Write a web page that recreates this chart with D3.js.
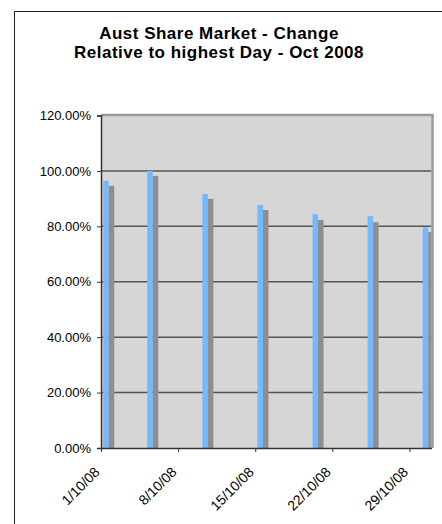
<!DOCTYPE html>
<html>
<head>
<meta charset="utf-8">
<script src="https://cdn.jsdelivr.net/npm/d3@7"></script>
<style>
  body { margin: 0; background: #fff; }
  svg { display: block; font-family: "Liberation Sans", Arial, Helvetica, sans-serif; }
</style>
</head>
<body>
<svg id="chart" width="442" height="524"></svg>
<script>
// data
var titleLines = ["Aust Share Market - Change", "Relative to highest Day - Oct 2008"];
var dates = ["2008-10-01", "2008-10-05", "2008-10-10", "2008-10-15", "2008-10-20", "2008-10-25", "2008-10-30"];
var seriesA = [96.4, 100.0, 91.7, 87.7, 84.4, 83.7, 79.6]; // blue
var seriesB = [94.6, 98.2, 89.9, 85.9, 82.3, 81.5, 78.0]; // grey
var yTicks = [0, 20, 40, 60, 80, 100, 120];
var xTickDates = ["2008-10-01", "2008-10-08", "2008-10-15", "2008-10-22", "2008-10-29"];

var parse = d3.timeParse("%Y-%m-%d");
var fmt = function (d) { return d.getDate() + "/" + (d.getMonth() + 1) + "/08"; };

var svg = d3.select("#chart");

var plotL = 101, plotR = 431.5, plotT = 115.5, plotB = 448;

// outer frame (only top and left visible)
svg.append("path")
    .attr("d", "M14.5,530 L14.5,11.5 L450,11.5")
    .attr("fill", "none")
    .attr("stroke", "#222")
    .attr("stroke-width", 1);

svg.append("g").selectAll("text")
    .data(titleLines)
    .enter()
    .append("text")
    .attr("x", 219)
    .attr("y", function (d, i) { return 39 + i * 19; })
    .attr("text-anchor", "middle")
    .attr("font-size", 17)
    .attr("letter-spacing", 0.5)
    .attr("font-weight", "bold")
    .attr("fill", "#000")
    .text(function (d) { return d; });

var x = d3.scaleTime()
    .domain([parse("2008-10-01"), parse("2008-10-31")])
    .range([plotL, plotR]);

var y = d3.scaleLinear()
    .domain([0, 120])
    .range([plotB, plotT]);

var dayW = x(parse("2008-10-02")) - x(parse("2008-10-01"));
var inner = d3.scaleBand()
    .domain(["a", "b"])
    .range([0.2 * dayW, 1.2 * dayW])
    .padding(0);

// plot background
svg.append("rect")
    .attr("x", plotL)
    .attr("y", plotT)
    .attr("width", plotR - plotL)
    .attr("height", plotB - plotT)
    .attr("fill", "#d6d6d6");

// gridlines
svg.append("g").selectAll("line")
    .data(yTicks.filter(function (d) { return d > 0 && d < 120; }))
    .enter()
    .append("line")
    .attr("x1", plotL)
    .attr("x2", plotR)
    .attr("y1", function (d) { return y(d); })
    .attr("y2", function (d) { return y(d); })
    .attr("stroke", "#555")
    .attr("stroke-width", 1.5);

svg.append("clipPath").attr("id", "plotclip")
    .append("rect")
    .attr("x", plotL).attr("y", plotT)
    .attr("width", plotR - plotL).attr("height", plotB - plotT);

var bars = svg.append("g").attr("clip-path", "url(#plotclip)");
var rows = dates.map(function (d, i) { return { date: parse(d), a: seriesA[i], b: seriesB[i] }; });

bars.selectAll("rect.a")
    .data(rows)
    .enter()
    .append("rect")
    .attr("class", "a")
    .attr("x", function (d) { return x(d.date) + inner("a"); })
    .attr("width", inner.bandwidth())
    .attr("y", function (d) { return y(d.a); })
    .attr("height", function (d) { return y(0) - y(d.a); })
    .attr("fill", "#72b9ff");

bars.selectAll("rect.b")
    .data(rows)
    .enter()
    .append("rect")
    .attr("class", "b")
    .attr("x", function (d) { return x(d.date) + inner("b"); })
    .attr("width", inner.bandwidth())
    .attr("y", function (d) { return y(d.b); })
    .attr("height", function (d) { return y(0) - y(d.b); })
    .attr("fill", "#8e8e8e");

// plot border top & right
svg.append("path")
    .attr("d", "M" + plotL + "," + (plotT - 0.5) + " L" + (plotR + 1) + "," + (plotT - 0.5) + " L" + (plotR + 1) + "," + plotB)
    .attr("fill", "none")
    .attr("stroke", "#999")
    .attr("stroke-width", 2.5);

// y axis
var yAxis = svg.append("g")
    .attr("transform", "translate(" + plotL + ",0)")
    .call(d3.axisLeft(y).tickValues(yTicks).tickSize(4).tickPadding(6)
        .tickFormat(function (d) { return d.toFixed(2) + "%"; }));
yAxis.select(".domain").attr("stroke", "#333").attr("stroke-width", 1.5);
yAxis.selectAll(".tick line").attr("stroke", "#333");
yAxis.selectAll("text").attr("font-size", 13).attr("fill", "#000")
    .attr("font-family", "Liberation Sans, Arial, sans-serif");

// x axis
var xAxis = svg.append("g")
    .attr("transform", "translate(0," + plotB + ")")
    .call(d3.axisBottom(x).tickValues(xTickDates.map(parse)).tickSize(4).tickSizeOuter(0).tickFormat(fmt));
xAxis.select(".domain").attr("stroke", "#333").attr("stroke-width", 1.5);
xAxis.selectAll(".tick line").attr("stroke", "#333");
xAxis.selectAll("text")
    .attr("font-size", 14)
    .attr("fill", "#000")
    .attr("font-family", "Liberation Sans, Arial, sans-serif")
    .attr("text-anchor", "end")
    .attr("dy", null)
    .attr("y", null)
    .attr("transform", "translate(-1,25) rotate(-45)");
</script>
</body>
</html>
